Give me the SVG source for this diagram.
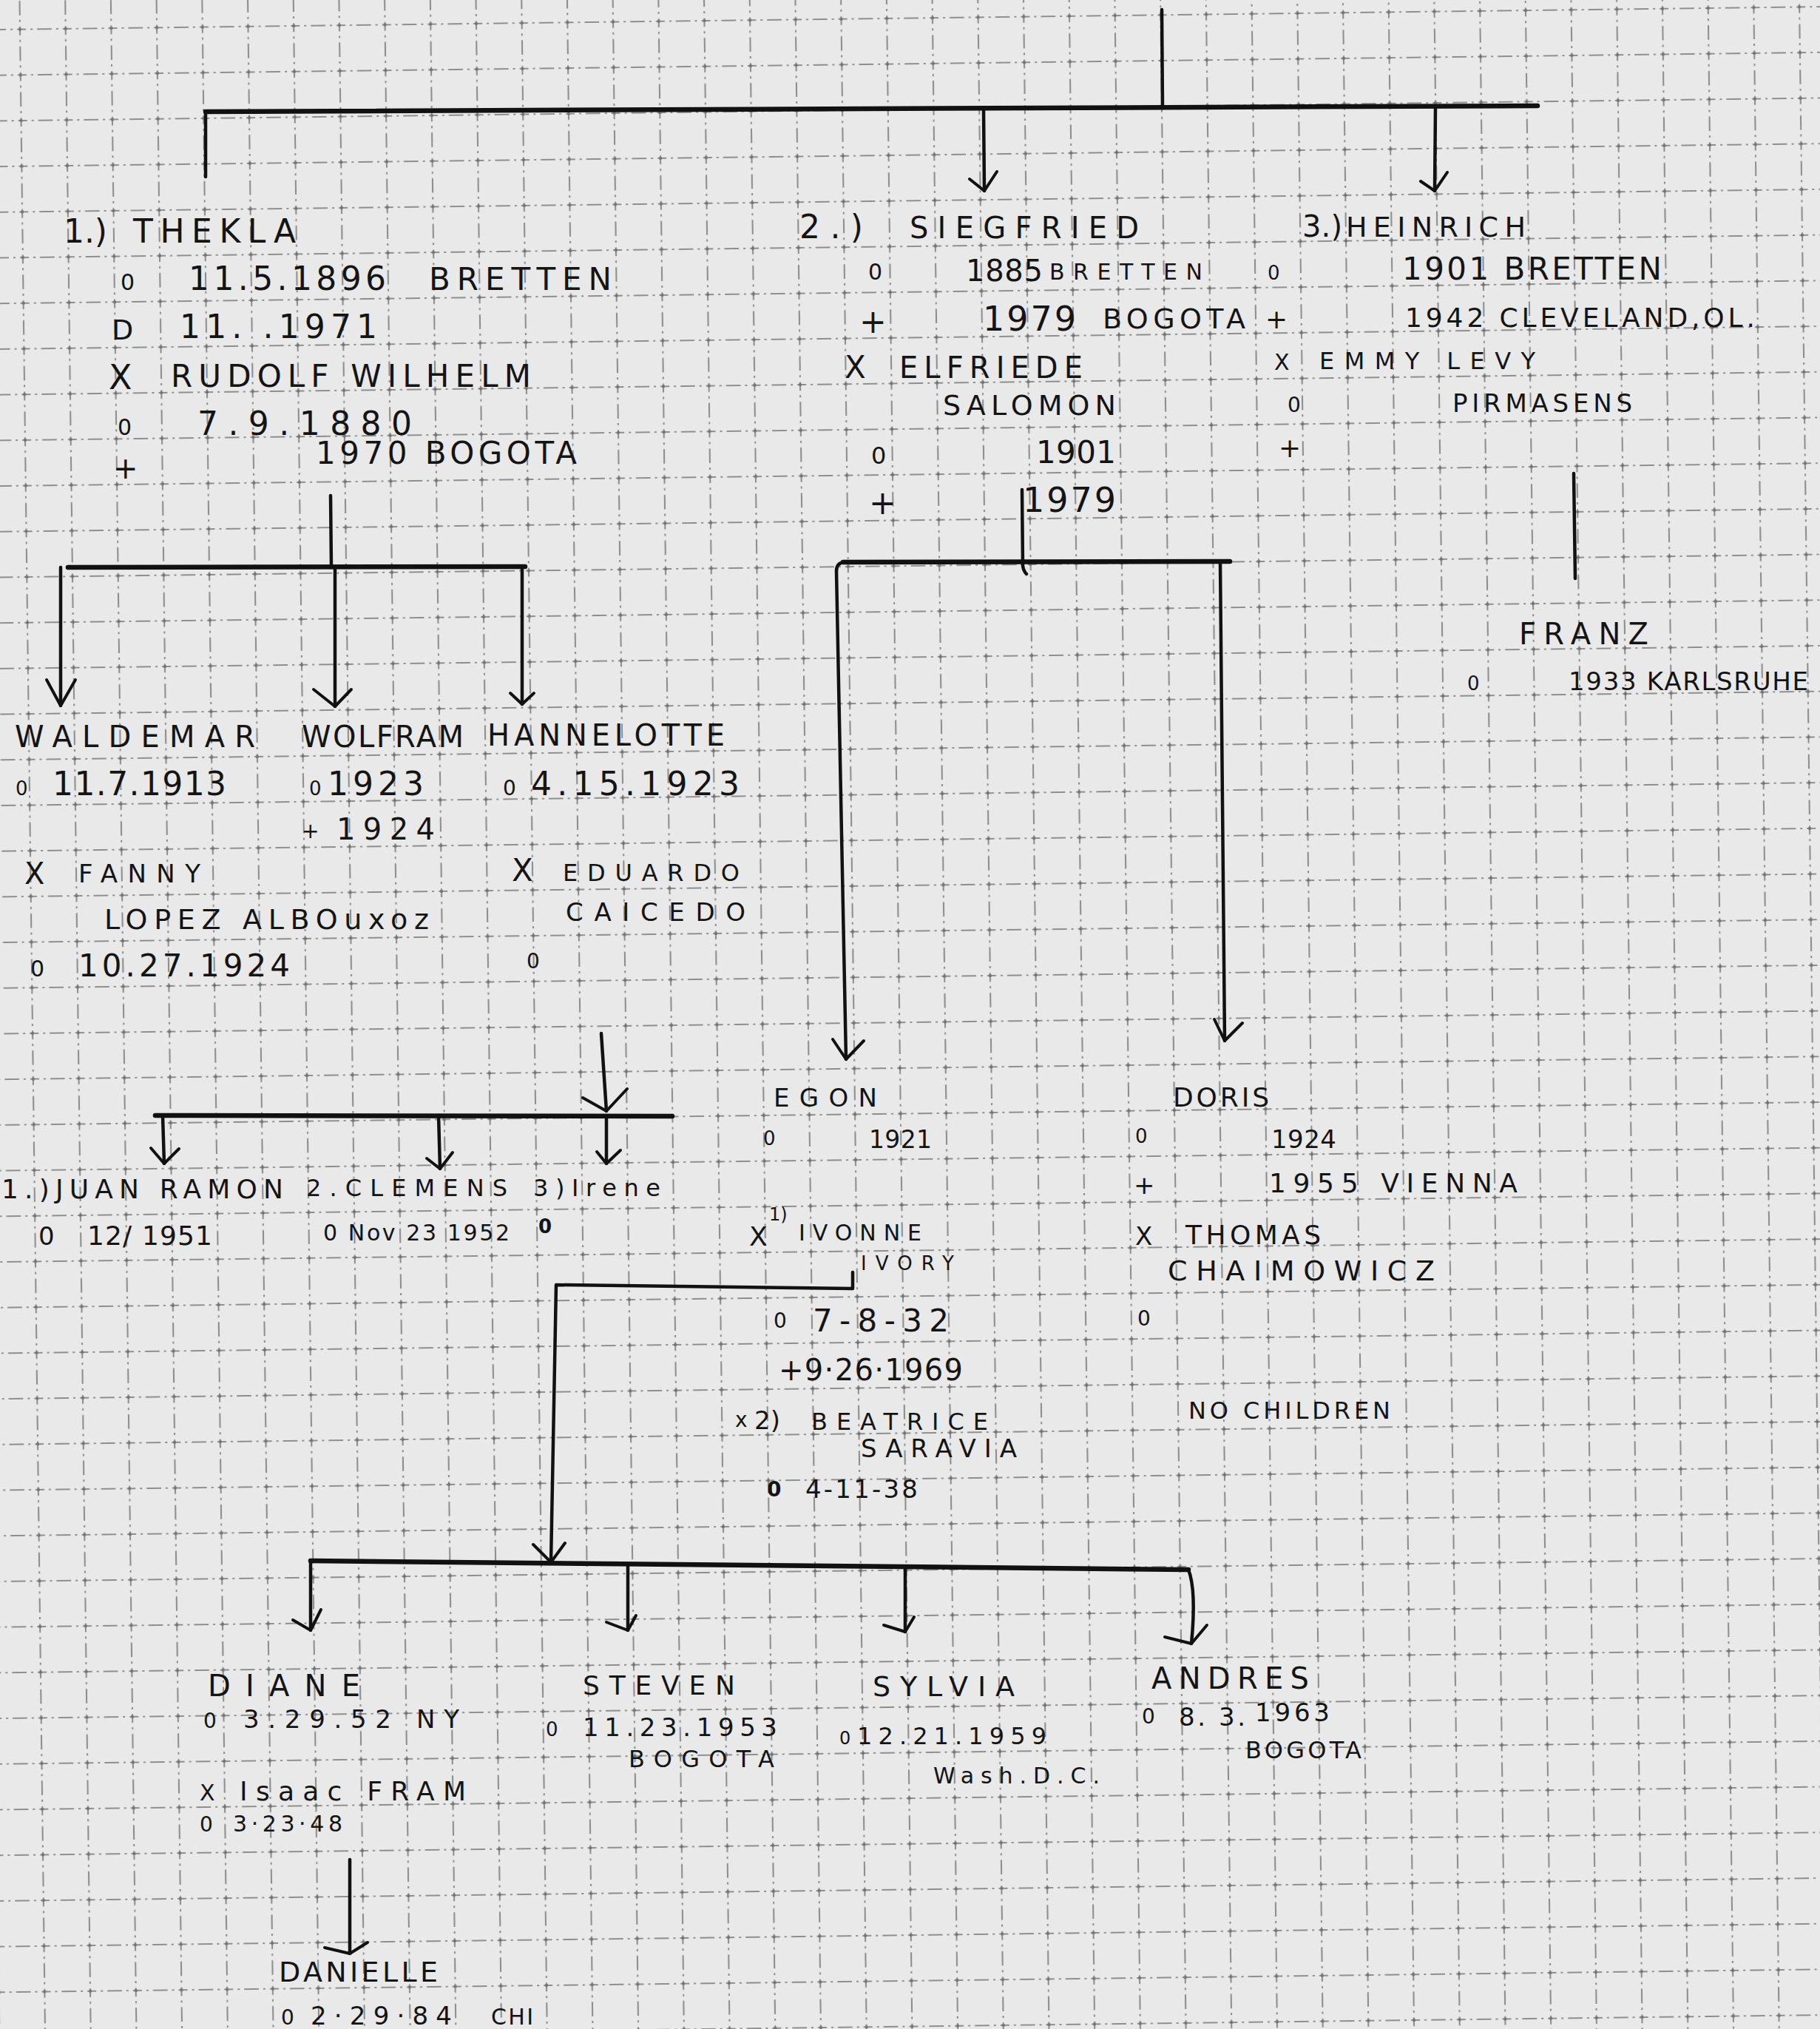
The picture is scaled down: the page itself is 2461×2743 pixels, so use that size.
<svg xmlns="http://www.w3.org/2000/svg" width="2461" height="2743" viewBox="0 0 2461 2743">
<style>
text{font-family:"DejaVu Sans","Liberation Sans",sans-serif;fill:#141414}
.ln{stroke:#111;stroke-width:4.5;fill:none;stroke-linecap:round;stroke-linejoin:round}
.bar{stroke:#111;stroke-width:6.5;fill:none;stroke-linecap:round}
.hd{stroke:#111;stroke-width:4;fill:none;stroke-linecap:round;stroke-linejoin:round}
.gl{stroke:#8e8e8e;stroke-width:2.1;stroke-dasharray:12 6 3 6}
</style>
<defs>
<pattern id="grid" patternUnits="userSpaceOnUse" x="-4.35" y="9.15" width="61.7" height="61.7" patternTransform="rotate(-0.72)">
<line class="gl" x1="30.85" y1="0" x2="30.85" y2="61.7"/>
<line class="gl" x1="0" y1="30.85" x2="61.7" y2="30.85"/>
<rect x="29.1" y="29.1" width="3.5" height="3.5" fill="#707070"/>
</pattern>
</defs>
<rect width="2461" height="2743" fill="#e9e9e9"/>
<rect width="2461" height="2743" fill="url(#grid)"/>

<g id="connectors">
<line class="ln" x1="1571" y1="13" x2="1572" y2="146"/>
<line class="bar" x1="278" y1="151" x2="2079" y2="143"/>
<line class="ln" x1="278" y1="151" x2="278" y2="239"/>
<line class="ln" x1="1330" y1="147" x2="1331" y2="258"/>
<polyline class="hd" points="1311,242 1331,258 1348,232"/>
<line class="ln" x1="1941" y1="145" x2="1940" y2="258"/>
<polyline class="hd" points="1921,245 1940,258 1957,233"/>

<line class="ln" x1="447" y1="670" x2="448" y2="767"/>
<line class="bar" x1="92" y1="767" x2="710" y2="766"/>
<line class="ln" x1="82" y1="767" x2="82" y2="954"/>
<polyline class="hd" points="63,919 82,954 102,919"/>
<line class="ln" x1="453" y1="767" x2="453" y2="955"/>
<polyline class="hd" points="424,932 453,955 475,932"/>
<line class="ln" x1="706" y1="767" x2="706" y2="952"/>
<polyline class="hd" points="690,937 706,952 722,937"/>

<path class="ln" d="M1382,662 L1383,765 Q1384,772 1388,776"/>
<line class="bar" x1="1140" y1="760" x2="1663" y2="759"/>
<path class="ln" d="M1140,760 Q1131,762 1131,772 L1144,1432"/>
<polyline class="hd" points="1126,1405 1144,1432 1168,1407"/>
<line class="ln" x1="1650" y1="760" x2="1656" y2="1407"/>
<polyline class="hd" points="1642,1378 1656,1407 1680,1383"/>

<line class="ln" x1="2128" y1="640" x2="2130" y2="782"/>

<line class="ln" x1="813" y1="1397" x2="820" y2="1502"/>
<polyline class="hd" points="788,1484 820,1502 848,1472"/>
<line class="bar" x1="210" y1="1508" x2="909" y2="1509"/>
<line class="ln" x1="220" y1="1508" x2="222" y2="1573"/>
<polyline class="hd" points="204,1552 222,1573 242,1553"/>
<line class="ln" x1="593" y1="1508" x2="595" y2="1580"/>
<polyline class="hd" points="577,1566 595,1580 612,1558"/>
<line class="ln" x1="820" y1="1509" x2="820" y2="1573"/>
<polyline class="hd" points="807,1557 820,1573 839,1555"/>

<polyline class="ln" points="1153,1720 1153,1742 752,1737 745,2112"/>
<polyline class="hd" points="721,2088 745,2112 764,2086"/>
<line class="bar" x1="420" y1="2110" x2="1607" y2="2122"/>
<line class="ln" x1="420" y1="2110" x2="420" y2="2204"/>
<polyline class="hd" points="396,2190 420,2204 434,2176"/>
<line class="ln" x1="849" y1="2117" x2="849" y2="2204"/>
<polyline class="hd" points="820,2193 849,2204 860,2184"/>
<line class="ln" x1="1224" y1="2119" x2="1224" y2="2206"/>
<polyline class="hd" points="1195,2197 1224,2206 1236,2186"/>
<path class="ln" d="M1607,2122 Q1618,2150 1611,2222"/>
<polyline class="hd" points="1575,2213 1611,2222 1632,2197"/>

<line class="ln" x1="473" y1="2514" x2="473" y2="2641"/>
<polyline class="hd" points="439,2633 473,2641 497,2626"/>
</g>

<g id="thekla">
<text x="86" y="328" font-size="44" textLength="59">1.)</text>
<text x="180" y="328" font-size="44" textLength="220">THEKLA</text>
<text x="163" y="392" font-size="30">0</text>
<text x="255" y="392" font-size="44" textLength="267">11.5.1896</text>
<text x="580" y="392" font-size="42" textLength="247">BRETTEN</text>
<text x="151" y="459" font-size="38">D</text>
<text x="243" y="457" font-size="44" textLength="267">11.   .1971</text>
<text x="147" y="526" font-size="46">X</text>
<text x="231" y="523" font-size="42" textLength="487">RUDOLF WILHELM</text>
<text x="159" y="588" font-size="30">0</text>
<text x="267" y="588" font-size="44" textLength="290">7.9.1880</text>
<text x="153" y="647" font-size="40">+</text>
<text x="427" y="627" font-size="42" textLength="353">1970 BOGOTA</text>
</g>

<g id="siegfried">
<text x="1081" y="322" font-size="44" textLength="86">2.)</text>
<text x="1230" y="322" font-size="40" textLength="310">SIEGFRIED</text>
<text x="1174" y="378" font-size="30">0</text>
<text x="1306" y="380" font-size="40" textLength="104">1885</text>
<text x="1419" y="378" font-size="30" textLength="207">BRETTEN</text>
<text x="1162" y="450" font-size="44">+</text>
<text x="1329" y="447" font-size="46" textLength="126">1979</text>
<text x="1491" y="444" font-size="38" textLength="193">BOGOTA</text>
<text x="1142" y="511" font-size="42">X</text>
<text x="1216" y="511" font-size="40" textLength="248">ELFRIEDE</text>
<text x="1275" y="561" font-size="38" textLength="234">SALOMON</text>
<text x="1178" y="627" font-size="32">0</text>
<text x="1401" y="626" font-size="42" textLength="108">1901</text>
<text x="1175" y="695" font-size="44">+</text>
<text x="1383" y="692" font-size="46" textLength="126">1979</text>
</g>

<g id="heinrich">
<text x="1761" y="320" font-size="40" textLength="54">3.)</text>
<text x="1820" y="320" font-size="38" textLength="243">HEINRICH</text>
<text x="1714" y="378" font-size="26">0</text>
<text x="1896" y="378" font-size="42" textLength="351">1901 BRETTEN</text>
<text x="1711" y="444" font-size="36">+</text>
<text x="1900" y="442" font-size="36" textLength="473">1942 CLEVELAND,OL.</text>
<text x="1723" y="500" font-size="30">X</text>
<text x="1784" y="499" font-size="32" textLength="292">EMMY LEVY</text>
<text x="1741" y="557" font-size="28">0</text>
<text x="1964" y="557" font-size="34" textLength="243">PIRMASENS</text>
<text x="1729" y="618" font-size="36">+</text>
</g>

<g id="franz">
<text x="2054" y="871" font-size="40" textLength="175">FRANZ</text>
<text x="1984" y="933" font-size="26">0</text>
<text x="2121" y="933" font-size="34" textLength="324">1933 KARLSRUHE</text>
</g>

<g id="waldemar">
<text x="20" y="1010" font-size="40" textLength="325">WALDEMAR</text>
<text x="21" y="1075" font-size="26">0</text>
<text x="71" y="1075" font-size="44" textLength="235">11.7.1913</text>
<text x="33" y="1195" font-size="40">X</text>
<text x="106" y="1193" font-size="34" textLength="165">FANNY</text>
<text x="141" y="1256" font-size="38" textLength="439">LOPEZ ALBOuxoz</text>
<text x="41" y="1320" font-size="30">0</text>
<text x="106" y="1320" font-size="42" textLength="286">10.27.1924</text>
</g>

<g id="wolfram">
<text x="408" y="1010" font-size="40" textLength="219">WOLFRAM</text>
<text x="418" y="1075" font-size="26">0</text>
<text x="443" y="1075" font-size="44" textLength="130">1923</text>
<text x="408" y="1133" font-size="28">+</text>
<text x="455" y="1135" font-size="40" textLength="133">1924</text>
</g>

<g id="hannelotte">
<text x="659" y="1008" font-size="40" textLength="321">HANNELOTTE</text>
<text x="680" y="1075" font-size="28">0</text>
<text x="718" y="1075" font-size="44" textLength="282">4.15.1923</text>
<text x="692" y="1191" font-size="42">X</text>
<text x="761" y="1191" font-size="32" textLength="239">EDUARDO</text>
<text x="765" y="1245" font-size="34" textLength="243">CAICEDO</text>
<text x="712" y="1309" font-size="28">0</text>
</g>

<g id="juan-ramon">
<text x="2" y="1620" font-size="36" textLength="381">1.)JUAN RAMON</text>
<text x="52" y="1683" font-size="34">0</text>
<text x="118" y="1683" font-size="36" textLength="169">12/ 1951</text>
</g>

<g id="clemens">
<text x="414" y="1617" font-size="32" textLength="272">2.CLEMENS</text>
<text x="437" y="1677" font-size="30" textLength="252">0 Nov 23 1952</text>
</g>

<g id="irene">
<text x="721" y="1617" font-size="32" textLength="172">3)Irene</text>
<text x="728" y="1667" font-size="26" font-weight="bold">0</text>
</g>

<g id="egon">
<text x="1046" y="1496" font-size="34" textLength="140">EGON</text>
<text x="1032" y="1548" font-size="26">0</text>
<text x="1175" y="1552" font-size="33" textLength="85">1921</text>
<text x="1013" y="1684" font-size="36">X</text>
<text x="1040" y="1650" font-size="24">1)</text>
<text x="1080" y="1677" font-size="30" textLength="166">IVONNE</text>
<text x="1164" y="1717" font-size="26" textLength="126">IVORY</text>
<text x="1046" y="1795" font-size="28">0</text>
<text x="1099" y="1800" font-size="42" textLength="184">7-8-32</text>
<text x="1053" y="1866" font-size="40" textLength="249">+9·26·1969</text>
<text x="994" y="1929" font-size="28">x</text>
<text x="1020" y="1932" font-size="34">2)</text>
<text x="1097" y="1933" font-size="32" textLength="239">BEATRICE</text>
<text x="1164" y="1970" font-size="34" textLength="211">SARAVIA</text>
<text x="1037" y="2023" font-size="28" font-weight="bold">0</text>
<text x="1089" y="2025" font-size="34" textLength="152">4-11-38</text>
</g>

<g id="doris">
<text x="1586" y="1496" font-size="36" textLength="130">DORIS</text>
<text x="1535" y="1545" font-size="26">0</text>
<text x="1719" y="1552" font-size="34" textLength="88">1924</text>
<text x="1533" y="1614" font-size="34">+</text>
<text x="1716" y="1612" font-size="36" textLength="336">1955 VIENNA</text>
<text x="1535" y="1683" font-size="34">X</text>
<text x="1603" y="1682" font-size="36" textLength="183">THOMAS</text>
<text x="1579" y="1731" font-size="38" textLength="361">CHAIMOWICZ</text>
<text x="1538" y="1792" font-size="28">0</text>
<text x="1607" y="1918" font-size="32" textLength="273">NO CHILDREN</text>
</g>

<g id="diane">
<text x="281" y="2293" font-size="40" textLength="206">DIANE</text>
<text x="275" y="2336" font-size="28">0</text>
<text x="329" y="2336" font-size="34" textLength="292">3.29.52 NY</text>
<text x="270" y="2434" font-size="30">X</text>
<text x="324" y="2434" font-size="36" textLength="306">Isaac FRAM</text>
<text x="270" y="2476" font-size="28">0</text>
<text x="315" y="2476" font-size="30" textLength="148">3·23·48</text>
</g>

<g id="steven">
<text x="788" y="2291" font-size="36" textLength="206">STEVEN</text>
<text x="738" y="2347" font-size="26">0</text>
<text x="788" y="2347" font-size="34" textLength="263">11.23.1953</text>
<text x="850" y="2389" font-size="32" textLength="197">BOGOTA</text>
</g>

<g id="sylvia">
<text x="1135" y="2358" font-size="24">0</text>
<text x="1180" y="2293" font-size="38" textLength="192">SYLVIA</text>
<text x="1159" y="2358" font-size="32" textLength="256">12.21.1959</text>
<text x="1262" y="2411" font-size="30" textLength="225">Wash.D.C.</text>
</g>

<g id="andres">
<text x="1557" y="2283" font-size="40" textLength="213">ANDRES</text>
<text x="1544" y="2330" font-size="28">0</text>
<text x="1594" y="2333" font-size="34" textLength="90">8. 3.</text>
<text x="1697" y="2327" font-size="34" textLength="101">1963</text>
<text x="1684" y="2377" font-size="32" textLength="157">BOGOTA</text>
</g>

<g id="danielle">
<text x="377" y="2679" font-size="38" textLength="215">DANIELLE</text>
<text x="380" y="2737" font-size="28">0</text>
<text x="420" y="2737" font-size="34" textLength="191">2·29·84</text>
<text x="664" y="2737" font-size="30" textLength="57">CHI</text>
</g>
</svg>
